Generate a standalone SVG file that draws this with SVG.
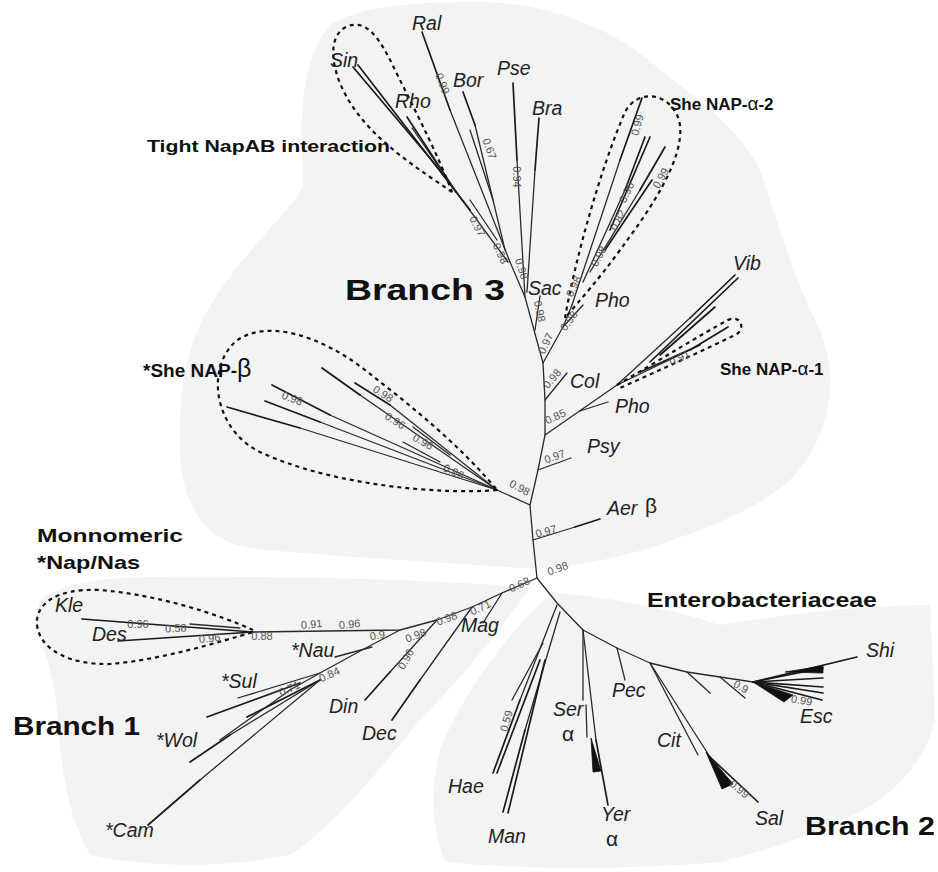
<svg xmlns="http://www.w3.org/2000/svg" width="938" height="872" viewBox="0 0 938 872">
<style>
.bg{fill:#f3f3f3;stroke:none}
.br{stroke:#2a2a2a;stroke-width:1.3;fill:none;stroke-linecap:round;stroke-linejoin:round}
.tip{stroke:#1a1a1a;stroke-width:1.7;fill:none;stroke-linecap:round}
.wedge{fill:#111;stroke:#111;stroke-width:0.8}
.loop{fill:none;stroke:#111;stroke-width:2.2;stroke-dasharray:4 4}
.tx{font-family:"Liberation Sans",Arial,sans-serif;font-style:italic;font-size:19.5px;fill:#222}
.gr{font-family:"Liberation Sans",Arial,sans-serif;font-size:21px;fill:#222}
.num{font-family:"Liberation Sans",Arial,sans-serif;font-size:11px;fill:#555;text-anchor:middle}
.hd{font-family:"Liberation Sans",Arial,sans-serif;font-weight:bold;fill:#111}
</style>
<rect width="938" height="872" fill="#ffffff"/>
<g id="regions">
<path class="bg" d="M303,180 C300,120 300,60 330,25 C360,5 420,2 480,2 C560,2 630,40 660,70 C700,100 740,130 760,170 C780,230 795,280 820,330 C840,380 830,440 790,480 C750,515 700,530 650,548 C600,562 560,570 520,568 C440,562 320,556 250,548 C200,540 182,500 180,450 C178,390 188,345 205,315 C228,272 268,232 288,208 C298,196 303,188 303,180 Z"/>
<path class="bg" d="M40,600 C60,585 90,578 150,577 C300,576 450,580 530,588 C500,630 460,680 420,720 C380,770 330,830 290,855 C230,868 150,868 90,855 C70,820 62,780 58,720 C55,680 45,650 35,625 Z"/>
<path class="bg" d="M552,592 C600,597 660,605 720,625 C780,615 860,605 930,605 L935,720 C925,760 900,790 860,812 C820,830 780,848 720,862 C620,870 520,870 445,862 C432,830 430,790 440,750 C460,700 500,640 552,592 Z"/>
</g>
<g id="connectors">
<path class="br" d="M537,578 L533,540 L530,505 L538,470 L545,435 L545,400 L543,363"/>
<path class="br" d="M543,363 L525,297 L510,262"/>
<path class="br" d="M535,330 L540,296"/>
<path class="br" d="M525,297 L517,160"/>
<path class="tip" d="M517,160 L513,83"/>
<path class="br" d="M527,292 L535,170"/>
<path class="tip" d="M535,170 L539,118"/>
<path class="br" d="M510,262 L450,110"/>
<path class="tip" d="M450,110 L422,32"/>
<path class="br" d="M505,250 L475,125"/>
<path class="tip" d="M475,125 L463,92"/>
<path class="br" d="M493,200 L470,130"/>
<path class="br" d="M508,262 L440,170"/>
<path class="tip" d="M440,170 L353,67"/>
<path class="tip" d="M470,210 L358,65"/>
<path class="tip" d="M456,192 L407,117"/>
<path class="br" d="M462,200 L412,128"/>
<path class="br" d="M497,240 L470,200"/>
<path class="br" d="M543,363 L563,327 L572,305"/>
<path class="br" d="M563,327 L583,305"/>
<path class="br" d="M572,305 L620,160"/>
<path class="tip" d="M620,160 L642,98"/>
<path class="br" d="M583,282 L625,190"/>
<path class="tip" d="M625,190 L645,137"/>
<path class="tip" d="M610,230 L650,137"/>
<path class="br" d="M590,272 L640,190"/>
<path class="tip" d="M640,190 L665,147"/>
<path class="tip" d="M605,250 L652,180"/>
<path class="br" d="M545,435 L617,385 L690,318"/>
<path class="tip" d="M690,318 L735,275"/>
<path class="tip" d="M650,362 L738,278"/>
<path class="tip" d="M660,355 L715,307"/>
<path class="br" d="M617,385 L690,350"/>
<path class="tip" d="M690,350 L728,327"/>
<path class="tip" d="M640,372 L700,345"/>
<path class="br" d="M545,400 L567,373"/>
<path class="br" d="M580,411 L608,402"/>
<path class="br" d="M538,470 L571,458"/>
<path class="br" d="M533,540 L575,527"/>
<path class="tip" d="M575,527 L600,519"/>
<path class="br" d="M530,505 L497,490"/>
<path class="br" d="M497,490 L360,395"/>
<path class="tip" d="M360,395 L322,368"/>
<path class="br" d="M497,490 L390,405"/>
<path class="tip" d="M390,405 L355,383"/>
<path class="br" d="M497,490 L330,415"/>
<path class="tip" d="M330,415 L272,385"/>
<path class="br" d="M497,490 L320,422"/>
<path class="tip" d="M320,422 L265,401"/>
<path class="br" d="M497,490 L300,428"/>
<path class="tip" d="M300,428 L227,407"/>
<path class="br" d="M413,427 L450,455"/>
<path class="br" d="M403,442 L440,462"/>
<path class="br" d="M537,578 L502,593 L472,607 L437,620 L400,630 L253,632"/>
<path class="br" d="M502,593 L483,623"/>
<path class="br" d="M472,607 L420,680"/>
<path class="tip" d="M420,680 L392,720"/>
<path class="br" d="M437,620 L390,672"/>
<path class="tip" d="M390,672 L365,700"/>
<path class="br" d="M400,630 L362,650 L320,673 L290,690"/>
<path class="br" d="M372,647 L335,657"/>
<path class="br" d="M320,673 L238,698"/>
<path class="tip" d="M300,683 L207,717"/>
<path class="tip" d="M320,680 L247,717"/>
<path class="br" d="M320,680 L230,735"/>
<path class="tip" d="M230,735 L190,762"/>
<path class="br" d="M290,690 L220,740"/>
<path class="br" d="M320,680 L200,780"/>
<path class="tip" d="M200,780 L148,825"/>
<path class="tip" d="M253,632 L82,619"/>
<path class="tip" d="M253,632 L118,641"/>
<path class="br" d="M240,628 L190,624"/>
<path class="br" d="M537,578 L557,603 L583,630 L617,648 L650,663 L687,672 L720,677 L753,682"/>
<path class="br" d="M557,605 L520,700"/>
<path class="tip" d="M520,700 L493,773"/>
<path class="tip" d="M540,660 L497,773"/>
<path class="br" d="M560,612 L525,730"/>
<path class="tip" d="M525,730 L503,812"/>
<path class="tip" d="M545,660 L508,813"/>
<path class="br" d="M543,643 L512,700"/>
<path class="br" d="M583,630 L583,700"/>
<path class="br" d="M583,630 L596,740"/>
<path class="tip" d="M596,740 L608,805"/>
<polygon class="wedge" points="591,738 601,771 593,772"/>
<path class="br" d="M586,705 L587,737"/>
<path class="br" d="M617,648 L625,680"/>
<path class="br" d="M650,663 L698,755"/>
<path class="br" d="M650,663 L710,757"/>
<path class="tip" d="M710,757 L758,802"/>
<polygon class="wedge" points="706,752 733,784 722,789"/>
<path class="br" d="M687,672 L710,693"/>
<path class="br" d="M720,677 L745,698"/>
<path class="tip" d="M753,682 L857,657"/>
<path class="tip" d="M753,682 L823,668"/>
<path class="tip" d="M753,682 L823,678"/>
<path class="tip" d="M753,682 L823,687"/>
<path class="tip" d="M753,682 L823,693"/>
<path class="tip" d="M753,682 L822,700"/>
<polygon class="wedge" points="753,682 784,702 793,695"/>
<polygon class="wedge" points="785,672 823,666 823,673"/>
</g>
<g id="loops">
<path class="loop" d="M452,192 C420,170 380,145 355,110 C330,75 325,35 348,26 C372,18 385,50 400,80 C420,120 440,160 452,192"/>
<path class="loop" d="M565,318 C575,260 600,170 625,112 C640,85 675,95 680,125 C684,160 650,210 620,250 C600,278 580,300 565,318"/>
<path class="loop" d="M617,385 C660,360 700,335 728,320 C742,314 746,330 735,335 C700,352 660,370 620,388"/>
<path class="loop" d="M497,490 C440,495 330,485 260,452 C215,430 205,370 235,342 C265,318 320,335 365,370 C410,405 460,445 497,490"/>
<path class="loop" d="M253,630 C220,615 160,595 100,590 C55,588 35,605 37,625 C40,650 70,665 110,664 C160,660 220,642 253,632"/>
</g>
<g id="support">
<text class="num" transform="translate(439,85) rotate(68)">0.99</text>
<text class="num" transform="translate(486,150) rotate(70)">0.67</text>
<text class="num" transform="translate(513,177) rotate(90)">0.94</text>
<text class="num" transform="translate(474,228) rotate(62)">0.97</text>
<text class="num" transform="translate(497,255) rotate(65)">0.98</text>
<text class="num" transform="translate(518,270) rotate(72)">0.98</text>
<text class="num" transform="translate(536,312) rotate(78)">0.98</text>
<text class="num" transform="translate(549,345) rotate(-65)">0.97</text>
<text class="num" transform="translate(641,126) rotate(-75)">0.99</text>
<text class="num" transform="translate(664,180) rotate(-60)">0.99</text>
<text class="num" transform="translate(630,194) rotate(-65)">0.90</text>
<text class="num" transform="translate(621,222) rotate(-60)">0.82</text>
<text class="num" transform="translate(602,258) rotate(-62)">0.98</text>
<text class="num" transform="translate(577,288) rotate(-65)">0.98</text>
<text class="num" transform="translate(572,323) rotate(-55)">0.98</text>
<text class="num" transform="translate(555,381) rotate(-50)">0.98</text>
<text class="num" transform="translate(557,420) rotate(-25)">0.85</text>
<text class="num" transform="translate(681,361) rotate(-25)">0.91</text>
<text class="num" transform="translate(556,460) rotate(-20)">0.97</text>
<text class="num" transform="translate(518,491) rotate(28)">0.98</text>
<text class="num" transform="translate(547,535) rotate(-15)">0.97</text>
<text class="num" transform="translate(559,572) rotate(-20)">0.98</text>
<text class="num" transform="translate(291,402) rotate(20)">0.98</text>
<text class="num" transform="translate(381,397) rotate(32)">0.98</text>
<text class="num" transform="translate(393,424) rotate(32)">0.96</text>
<text class="num" transform="translate(421,445) rotate(30)">0.96</text>
<text class="num" transform="translate(452,475) rotate(25)">0.96</text>
<text class="num" transform="translate(521,588) rotate(-25)">0.68</text>
<text class="num" transform="translate(482,611) rotate(-25)">0.71</text>
<text class="num" transform="translate(448,622) rotate(-20)">0.98</text>
<text class="num" transform="translate(417,639) rotate(-20)">0.98</text>
<text class="num" transform="translate(378,639) rotate(-10)">0.9</text>
<text class="num" transform="translate(350,628) rotate(-5)">0.96</text>
<text class="num" transform="translate(312,628) rotate(-5)">0.91</text>
<text class="num" transform="translate(409,661) rotate(-60)">0.96</text>
<text class="num" transform="translate(331,678) rotate(-25)">0.84</text>
<text class="num" transform="translate(291,692) rotate(-25)">0.71</text>
<text class="num" transform="translate(262,640)">0.88</text>
<text class="num" transform="translate(210,642) rotate(-5)">0.96</text>
<text class="num" transform="translate(176,632) rotate(-3)">0.58</text>
<text class="num" transform="translate(138,628)">0.96</text>
<text class="num" transform="translate(510,722) rotate(-75)">0.59</text>
<text class="num" transform="translate(739,690) rotate(30)">0.9</text>
<text class="num" transform="translate(801,704) rotate(10)">0.99</text>
<text class="num" transform="translate(737,792) rotate(40)">0.99</text>
</g>
<g id="taxa">
<text class="tx" x="412" y="30">Ral</text>
<text class="tx" x="330" y="67">Sin</text>
<text class="tx" x="395" y="108">Rho</text>
<text class="tx" x="453" y="87">Bor</text>
<text class="tx" x="497" y="75">Pse</text>
<text class="tx" x="532" y="115">Bra</text>
<text class="tx" x="528" y="295">Sac</text>
<text class="tx" x="595" y="307">Pho</text>
<text class="tx" x="570" y="388">Col</text>
<text class="tx" x="733" y="270">Vib</text>
<text class="tx" x="615" y="413">Pho</text>
<text class="tx" x="587" y="453">Psy</text>
<text class="tx" x="607" y="515">Aer</text>
<text class="gr" x="645" y="513" font-size="24">β</text>
<text class="tx" x="55" y="612">Kle</text>
<text class="tx" x="92" y="641">Des</text>
<text class="tx" x="291" y="657">*Nau</text>
<text class="tx" x="221" y="688">*Sul</text>
<text class="tx" x="156" y="747">*Wol</text>
<text class="tx" x="105" y="837">*Cam</text>
<text class="tx" x="329" y="713">Din</text>
<text class="tx" x="362" y="740">Dec</text>
<text class="tx" x="461" y="632">Mag</text>
<text class="tx" x="448" y="793">Hae</text>
<text class="tx" x="488" y="843">Man</text>
<text class="tx" x="553" y="716">Ser</text>
<text class="gr" x="562" y="741" font-size="20">α</text>
<text class="tx" x="601" y="821">Yer</text>
<text class="gr" x="606" y="846" font-size="20">α</text>
<text class="tx" x="612" y="697">Pec</text>
<text class="tx" x="657" y="747">Cit</text>
<text class="tx" x="755" y="825">Sal</text>
<text class="tx" x="800" y="723">Esc</text>
<text class="tx" x="866" y="657">Shi</text>
</g>
<g id="headings">
<text class="hd" x="147" y="152" font-size="17" textLength="243" lengthAdjust="spacingAndGlyphs">Tight NapAB interaction</text>
<text class="hd" x="345" y="300" font-size="30" textLength="160" lengthAdjust="spacingAndGlyphs">Branch 3</text>
<text class="hd" x="670" y="110" font-size="17">She NAP-<tspan font-weight="normal" font-size="19">α</tspan>-2</text>
<text class="hd" x="720" y="375" font-size="17">She NAP-<tspan font-weight="normal" font-size="19">α</tspan>-1</text>
<text class="hd" x="143" y="377" font-size="19">*She NAP-<tspan font-weight="normal" font-size="25">β</tspan></text>
<text class="hd" x="37" y="542" font-size="19" textLength="146" lengthAdjust="spacingAndGlyphs">Monnomeric</text>
<text class="hd" x="37" y="569" font-size="19" textLength="103" lengthAdjust="spacingAndGlyphs">*Nap/Nas</text>
<text class="hd" x="647" y="607" font-size="21" textLength="230" lengthAdjust="spacingAndGlyphs">Enterobacteriaceae</text>
<text class="hd" x="13" y="735" font-size="26" textLength="127" lengthAdjust="spacingAndGlyphs">Branch 1</text>
<text class="hd" x="805" y="835" font-size="26" textLength="130" lengthAdjust="spacingAndGlyphs">Branch 2</text>
</g>
</svg>
